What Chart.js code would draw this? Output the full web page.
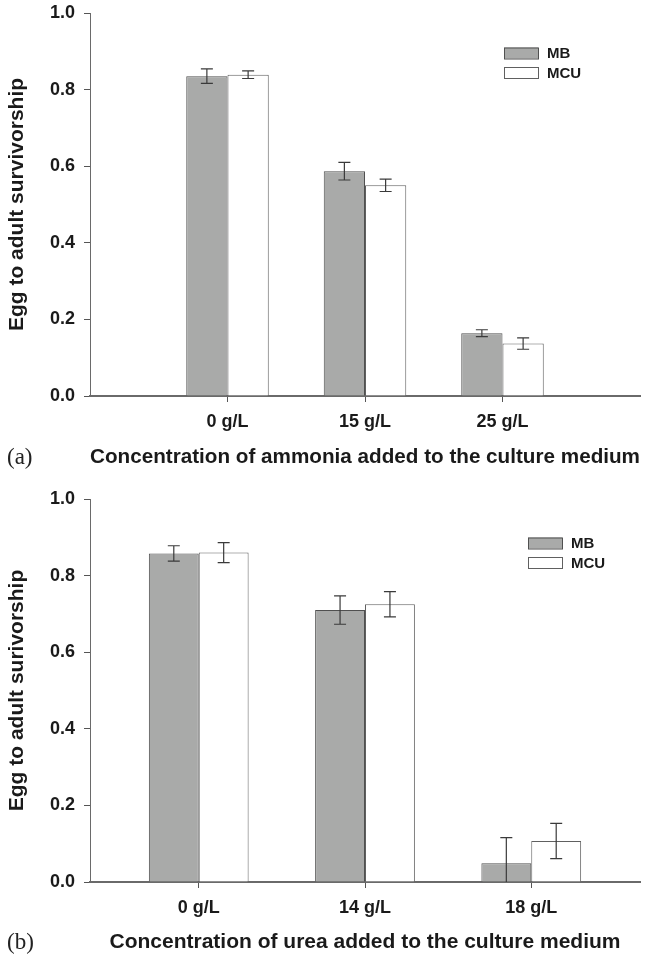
<!DOCTYPE html>
<html>
<head>
<meta charset="utf-8">
<script src="https://cdn.jsdelivr.net/npm/chart.js@4.4.1/dist/chart.umd.min.js"></script>
<style>
  html, body { margin: 0; padding: 0; background: #fff; }
  body { width: 649px; height: 955px; position: relative; overflow: hidden; }
  .panel { position: absolute; left: 0; width: 649px; }
  #panelA { top: 0; height: 470px; }
  #panelB { top: 470px; height: 485px; }
  .tag { position: absolute; left: 7px; font-family: "Liberation Serif", "DejaVu Serif", serif; font-size: 23px; line-height: 26px; color: #222; }
</style>
</head>
<body>
<div class="panel" id="panelA"><canvas id="chartA" width="649" height="470"></canvas></div>
<div class="panel" id="panelB"><canvas id="chartB" width="649" height="485"></canvas></div>
<div class="tag" style="top:444px">(a)</div>
<div class="tag" style="top:929px">(b)</div>
<script>
// Panel (a): ammonia added to the culture medium
const ammoniaLabels = ['0 g/L', '15 g/L', '25 g/L'];
const ammoniaMB = [0.835, 0.587, 0.164];
const ammoniaMBErr = [0.019, 0.023, 0.009];
const ammoniaMCU = [0.839, 0.550, 0.137];
const ammoniaMCUErr = [0.010, 0.016, 0.015];

// Panel (b): urea added to the culture medium
const ureaLabels = ['0 g/L', '14 g/L', '18 g/L'];
const ureaMB = [0.858, 0.710, 0.049];
const ureaMBErr = [0.020, 0.037, 0.067];
const ureaMCU = [0.860, 0.725, 0.107];
const ureaMCUErr = [0.026, 0.033, 0.046];

const yTicks = [0, 0.2, 0.4, 0.6, 0.8, 1.0];
const seriesNames = ['MB', 'MCU'];

const FONT = 'Arial, "Liberation Sans", Helvetica, sans-serif';

// Vertical error bars with caps, drawn over each bar
const errorBarPlugin = {
  id: 'errorBars',
  afterDatasetsDraw(chart) {
    const ctx = chart.ctx;
    const yScale = chart.scales.y;
    const area = chart.chartArea;
    ctx.save();
    ctx.beginPath();
    ctx.rect(area.left, area.top - 20, area.right - area.left, area.bottom - area.top + 20);
    ctx.clip();
    ctx.strokeStyle = '#3a3a3a';
    ctx.lineWidth = 1.2;
    chart.data.datasets.forEach((ds, di) => {
      const meta = chart.getDatasetMeta(di);
      meta.data.forEach((bar, i) => {
        const v = ds.data[i].y;
        const e = ds.errors[i];
        const x = bar.x;
        const yTop = yScale.getPixelForValue(v + e);
        const yBot = yScale.getPixelForValue(v - e);
        const cap = 6;
        ctx.beginPath();
        ctx.moveTo(x, yTop); ctx.lineTo(x, yBot);
        ctx.moveTo(x - cap, yTop); ctx.lineTo(x + cap, yTop);
        ctx.moveTo(x - cap, yBot); ctx.lineTo(x + cap, yBot);
        ctx.stroke();
      });
    });
    ctx.restore();
  }
};

// Legend boxes placed inside the plot area, upper right
const boxLegendPlugin = {
  id: 'boxLegend',
  afterDraw(chart, args, opts) {
    const ctx = chart.ctx;
    ctx.save();
    chart.data.datasets.forEach((ds, i) => {
      const x = opts.x, y = opts.y + i * 19.5;
      ctx.fillStyle = ds.backgroundColor;
      ctx.strokeStyle = ds.borderColor;
      ctx.lineWidth = 1;
      ctx.fillRect(x, y, 34, 11);
      ctx.strokeRect(x + 0.5, y + 0.5, 34, 11);
      ctx.fillStyle = '#1a1a1a';
      ctx.font = 'bold 15px ' + FONT;
      ctx.textBaseline = 'middle';
      ctx.textAlign = 'left';
      ctx.fillText(ds.label, x + 43, y + 6.5);
    });
    ctx.restore();
  }
};

function points(values) {
  return values.map((v, i) => ({ x: i + 1, y: v }));
}

function makeChart(canvasId, labels, mb, mbErr, mcu, mcuErr, xMin, xMax, topPad, xAxisHeight, yTitle, xTitle, legendPos) {
  return new Chart(document.getElementById(canvasId), {
    type: 'bar',
    data: {
      datasets: [
        { label: seriesNames[0], data: points(mb), errors: mbErr,
          backgroundColor: '#a9aaa9', borderColor: '#505050', borderWidth: 1,
          categoryPercentage: 0.6, barPercentage: 1.0 },
        { label: seriesNames[1], data: points(mcu), errors: mcuErr,
          backgroundColor: '#ffffff', borderColor: '#606060', borderWidth: 1,
          categoryPercentage: 0.6, barPercentage: 1.0 }
      ]
    },
    options: {
      responsive: false,
      animation: false,
      events: [],
      layout: { padding: { top: topPad, right: 9, left: 0, bottom: 0 } },
      plugins: {
        legend: { display: false },
        tooltip: { enabled: false },
        boxLegend: legendPos
      },
      scales: {
        x: {
          type: 'linear',
          min: xMin, max: xMax,
          offset: false,
          afterBuildTicks(scale) {
            scale.ticks = labels.map((_, i) => ({ value: i + 1 }));
          },
          afterFit(scale) {
            scale.height = xAxisHeight;
            scale.paddingLeft = 0;
            scale.paddingRight = 0;
          },
          grid: { display: true, drawOnChartArea: false, drawTicks: true, tickLength: 6, offset: false, color: '#555', lineWidth: 1 },
          border: { display: true, color: '#6a6a6a', width: 2 },
          ticks: {
            autoSkip: false, maxRotation: 0, padding: 9, color: '#1a1a1a',
            font: { family: FONT, size: 18, weight: 'bold' },
            callback: (v) => labels[v - 1] ?? ''
          },
          title: {
            display: true, text: xTitle, color: '#1a1a1a',
            font: { family: FONT, size: 21, weight: 'bold' },
            padding: { top: 0, bottom: 0 }
          }
        },
        y: {
          min: 0, max: 1.0,
          afterBuildTicks(scale) {
            scale.ticks = yTicks.map(v => ({ value: v }));
          },
          afterFit(scale) {
            scale.width = 90;
            scale.paddingTop = 0;
            scale.paddingBottom = 0;
          },
          grid: { display: true, drawOnChartArea: false, drawTicks: true, tickLength: 6, color: '#555', lineWidth: 1 },
          border: { display: true, color: '#6a6a6a', width: 1 },
          ticks: {
            padding: 9, color: '#1a1a1a',
            font: { family: FONT, size: 18, weight: 'bold' },
            callback: (v) => v.toFixed(1)
          },
          title: {
            display: true, text: yTitle, color: '#1a1a1a',
            font: { family: FONT, size: 21, weight: 'bold' },
            padding: { top: 5, bottom: 0 }
          }
        }
      }
    },
    plugins: [errorBarPlugin, boxLegendPlugin]
  });
}

makeChart('chartA', ammoniaLabels, ammoniaMB, ammoniaMBErr, ammoniaMCU, ammoniaMCUErr,
  0, 4, 13, 74, 'Egg to adult survivorship',
  'Concentration of ammonia added to the culture medium', { x: 504, y: 47.5 });

makeChart('chartB', ureaLabels, ureaMB, ureaMBErr, ureaMCU, ureaMCUErr,
  0.346, 3.654, 29, 73, 'Egg to adult surivorship',
  'Concentration of urea added to the culture medium', { x: 528, y: 67.5 });
</script>
</body>
</html>
